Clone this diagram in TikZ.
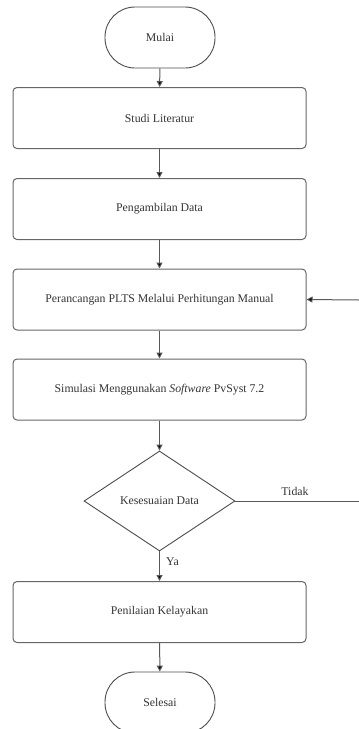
\documentclass[tikz,border=0pt]{standalone}
\usepackage{fontspec}
\setmainfont{Liberation Serif}
\usetikzlibrary{arrows.meta,shapes.geometric}
\begin{document}
\begin{tikzpicture}[x=1pt,y=-1pt,
  procbox/.style={draw=black!60,line width=1pt,rounded corners=4pt,minimum width=293pt,minimum height=61pt,inner sep=0pt,font=\fontsize{11.8}{13}\selectfont,text=black!80},
  term/.style={draw=black!70,line width=0.9pt,rounded corners=30pt,minimum width=110pt,minimum height=61pt,inner sep=0pt,font=\fontsize{11.8}{13}\selectfont,text=black!80},
  decis/.style={draw=black!70,line width=0.9pt,diamond,aspect=1.51,minimum width=151pt,minimum height=100pt,inner sep=0pt,font=\fontsize{11.8}{13}\selectfont,text=black!80},
  conn/.style={draw=black!65,line width=1pt,-{Triangle[length=6pt,width=6pt,fill=black]}},
  plain/.style={draw=black!65,line width=1pt},
  lbl/.style={font=\fontsize{11.8}{13}\selectfont,text=black!80,inner sep=0pt}]
\useasboundingbox (0,0) rectangle (359,729);
\node[term] (mulai) at (160,37.5) {Mulai};
\node[procbox] (b1) at (159.5,118) {Studi Literatur};
\node[procbox] (b2) at (159.5,209) {Pengambilan Data};
\node[procbox] (b3) at (159.5,299.5) {Perancangan PLTS Melalui Perhitungan Manual};
\node[procbox] (b4) at (159.5,389.5) {Simulasi Menggunakan \textit{Software} PvSyst 7.2};
\node[decis] (d) at (159.5,501) {Kesesuaian Data};
\node[procbox] (b5) at (159.5,612) {Penilaian Kelayakan};
\node[term] (selesai) at (160,702.5) {Selesai};
\coordinate (r1) at (359,501);
\coordinate (r2) at (359,300);
\draw[conn] (mulai) -- (b1);
\draw[conn] (b1) -- (b2);
\draw[conn] (b2) -- (b3);
\draw[conn] (b3) -- (b4);
\draw[conn] (b4) -- (d);
\draw[conn] (d) -- (b5);
\draw[conn] (b5) -- (selesai);
\draw[plain] (d.east) -- (r1);
\draw[conn] (r2) -- (b3.east);
\node[lbl] (tidak) at (295,491) {Tidak};
\node[lbl] (ya) at (172.5,562) {Ya};
\end{tikzpicture}
\end{document}
